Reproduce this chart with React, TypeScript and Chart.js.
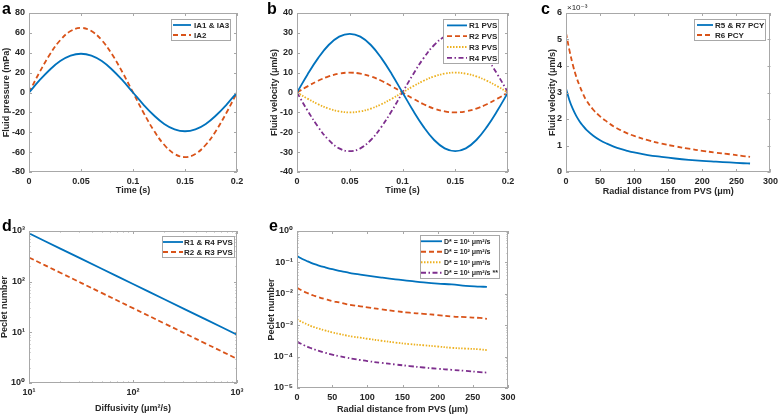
import React, { useEffect, useRef } from "react";
import { Chart, registerables } from "chart.js";

Chart.register(...registerables);

const FONT = "'Liberation Sans', Arial, 'DejaVu Sans', sans-serif";
const BLUE = "#0072BD";
const ORANGE = "#D95319";
const YELLOW = "#EDB120";
const PURPLE = "#7E2F8E";
const AXIS = "#a8a8a8";
const TEXT = "#262626";

const DASH = [5, 3];
const DOT = [1.5, 1.5];
const DASHDOT = [5, 2.5, 1.5, 2.5];

// ---------- Panel a ----------
const A_TIME = [0, 0.01, 0.02, 0.03, 0.04, 0.05, 0.06, 0.07, 0.08, 0.09, 0.1, 0.11, 0.12, 0.13, 0.14, 0.15, 0.16, 0.17, 0.18, 0.19, 0.2];
const A_IA1_IA3 = [0, 12.1, 22.9, 31.6, 37.1, 39, 37.1, 31.6, 22.9, 12.1, 0, -12.1, -22.9, -31.6, -37.1, -39, -37.1, -31.6, -22.9, -12.1, 0];
const A_IA2 = [0, 20.1, 38.2, 52.6, 61.8, 65, 61.8, 52.6, 38.2, 20.1, 0, -20.1, -38.2, -52.6, -61.8, -65, -61.8, -52.6, -38.2, -20.1, 0];

// ---------- Panel b ----------
const B_TIME = [0, 0.01, 0.02, 0.03, 0.04, 0.05, 0.06, 0.07, 0.08, 0.09, 0.1, 0.11, 0.12, 0.13, 0.14, 0.15, 0.16, 0.17, 0.18, 0.19, 0.2];
const B_R1 = [0, 9.1, 17.3, 23.9, 28.1, 29.5, 28.1, 23.9, 17.3, 9.1, 0, -9.1, -17.3, -23.9, -28.1, -29.5, -28.1, -23.9, -17.3, -9.1, 0];
const B_R2 = [0, 3.1, 5.9, 8.1, 9.5, 10, 9.5, 8.1, 5.9, 3.1, 0, -3.1, -5.9, -8.1, -9.5, -10, -9.5, -8.1, -5.9, -3.1, 0];
const B_R3 = [0, -3.1, -5.9, -8.1, -9.5, -10, -9.5, -8.1, -5.9, -3.1, 0, 3.1, 5.9, 8.1, 9.5, 10, 9.5, 8.1, 5.9, 3.1, 0];
const B_R4 = [0, -9.1, -17.3, -23.9, -28.1, -29.5, -28.1, -23.9, -17.3, -9.1, 0, 9.1, 17.3, 23.9, 28.1, 29.5, 28.1, 23.9, 17.3, 9.1, 0];

// ---------- Panel c (values in units of 1e-3 µm/s) ----------
const C_R = [0, 5, 10, 15, 20, 25, 30, 40, 50, 60, 70, 80, 90, 100, 120, 140, 160, 180, 200, 220, 240, 260, 270];
const C_R5_R7 = [3.15, 2.71, 2.38, 2.12, 1.91, 1.74, 1.59, 1.37, 1.2, 1.07, 0.96, 0.87, 0.8, 0.74, 0.64, 0.57, 0.51, 0.46, 0.42, 0.39, 0.36, 0.33, 0.32];
const C_R6 = [5.25, 4.6, 4.05, 3.6, 3.25, 2.95, 2.7, 2.35, 2.1, 1.9, 1.72, 1.58, 1.46, 1.36, 1.2, 1.07, 0.97, 0.88, 0.8, 0.73, 0.67, 0.6, 0.57];

// ---------- Panel d ----------
const D_DIFF = [10, 20, 50, 100, 200, 500, 1000];
const D_R1_R4 = [900, 450, 180, 90, 45, 18, 9];
const D_R2_R3 = [300, 150, 60, 30, 15, 6, 3];

// ---------- Panel e ----------
const E_R = [0, 5, 10, 15, 20, 25, 30, 40, 50, 60, 70, 80, 90, 100, 120, 140, 160, 180, 200, 220, 240, 260, 270];
const E_D1 = [0.16, 0.138, 0.121, 0.108, 0.097, 0.088, 0.081, 0.07, 0.061, 0.054, 0.049, 0.044, 0.041, 0.038, 0.033, 0.029, 0.026, 0.023, 0.021, 0.02, 0.018, 0.017, 0.0165];
const E_D2 = [0.0155, 0.0134, 0.0118, 0.0105, 0.0094, 0.0086, 0.0079, 0.0068, 0.0059, 0.0053, 0.0047, 0.0043, 0.004, 0.0037, 0.0032, 0.0028, 0.0025, 0.0023, 0.0021, 0.0019, 0.0018, 0.0017, 0.0016];
const E_D3 = [0.00155, 0.00134, 0.00118, 0.00105, 0.00094, 0.00086, 0.00079, 0.00068, 0.00059, 0.00053, 0.00047, 0.00043, 0.0004, 0.00037, 0.00032, 0.00028, 0.00025, 0.00023, 0.00021, 0.00019, 0.00018, 0.00017, 0.00016];
const E_D1B = [3.0e-4, 2.6e-4, 2.3e-4, 2.05e-4, 1.85e-4, 1.68e-4, 1.54e-4, 1.33e-4, 1.16e-4, 1.03e-4, 9.3e-5, 8.5e-5, 7.8e-5, 7.2e-5, 6.3e-5, 5.6e-5, 5.0e-5, 4.5e-5, 4.1e-5, 3.8e-5, 3.5e-5, 3.2e-5, 3.1e-5];

const D_X_TICKS = [10, 100, 1000];
const D_Y_TICKS = [1, 10, 100, 1000];
const E_Y_TICKS = [1e-5, 1e-4, 1e-3, 1e-2, 1e-1, 1];

const SUP: Record<string, string> = { "-": "⁻", "0": "⁰", "1": "¹", "2": "²", "3": "³", "4": "⁴", "5": "⁵", "6": "⁶", "7": "⁷", "8": "⁸", "9": "⁹" };
const pow10 = (v: number) => "10" + String(Math.round(Math.log10(v))).split("").map((c) => SUP[c]).join("");

const pts = (xs: number[], ys: number[]) => xs.map((x, i) => ({ x, y: ys[i] }));

const ds = (label: string, xs: number[], ys: number[], color: string, dash: number[], width = 1.8) => ({
  label,
  data: pts(xs, ys),
  borderColor: color,
  backgroundColor: color,
  borderWidth: width,
  borderDash: dash,
  pointRadius: 0,
  tension: 0.4,
  fill: false,
});

const boxPlugin = {
  id: "mbox",
  afterDatasetsDraw(chart: any) {
    const { ctx, chartArea } = chart;
    const { left, top, right, bottom } = chartArea;
    ctx.save();
    ctx.strokeStyle = AXIS;
    ctx.lineWidth = 1;
    ctx.setLineDash([]);
    ctx.strokeRect(Math.round(left) + 0.5, Math.round(top) + 0.5, Math.round(right - left) - 1, Math.round(bottom - top) - 1);
    const drawTicks = (scale: any, value: number, len: number) => {
      const p = Math.round(scale.getPixelForValue(value)) + 0.5;
      ctx.beginPath();
      if (scale.axis === "x") {
        ctx.moveTo(p, bottom);
        ctx.lineTo(p, bottom - len);
        ctx.moveTo(p, top);
        ctx.lineTo(p, top + len);
      } else {
        ctx.moveTo(left, p);
        ctx.lineTo(left + len, p);
        ctx.moveTo(right, p);
        ctx.lineTo(right - len, p);
      }
      ctx.stroke();
    };
    for (const id of Object.keys(chart.scales)) {
      const scale = chart.scales[id];
      for (const t of scale.ticks) drawTicks(scale, t.value, 3);
      if (scale.type === "logarithmic") {
        const lo = Math.round(Math.log10(scale.min));
        const hi = Math.round(Math.log10(scale.max));
        for (let e = lo; e < hi; e++) {
          for (let k = 2; k <= 9; k++) drawTicks(scale, k * Math.pow(10, e), 1.5);
        }
      }
    }
    ctx.restore();
  },
};

const legendPlugin = {
  id: "mlegend",
  afterDraw(chart: any, _args: any, opts: any) {
    if (!opts || !opts.size) return;
    const { ctx, chartArea } = chart;
    const sets = chart.data.datasets;
    ctx.save();
    ctx.font = `bold ${opts.size}px ${FONT}`;
    const textW = Math.max(...sets.map((d: any) => ctx.measureText(d.label).width));
    const w = Math.round(opts.padL + opts.lineLen + opts.gap + textW + opts.padR);
    const h = Math.round(sets.length * opts.rowH + 2 * opts.padV);
    const x = Math.round(chartArea.right - opts.mr - w);
    const y = Math.round(chartArea.top + opts.mt);
    ctx.fillStyle = "#ffffff";
    ctx.fillRect(x, y, w, h);
    ctx.strokeStyle = AXIS;
    ctx.lineWidth = 1;
    ctx.setLineDash([]);
    ctx.strokeRect(x + 0.5, y + 0.5, w - 1, h - 1);
    sets.forEach((d: any, i: number) => {
      const cy = y + opts.padV + opts.rowH * (i + 0.5);
      ctx.beginPath();
      ctx.strokeStyle = d.borderColor;
      ctx.lineWidth = d.borderWidth;
      ctx.setLineDash(d.borderDash || []);
      ctx.moveTo(x + opts.padL, cy);
      ctx.lineTo(x + opts.padL + opts.lineLen, cy);
      ctx.stroke();
      ctx.setLineDash([]);
      ctx.fillStyle = TEXT;
      ctx.textAlign = "left";
      ctx.textBaseline = "middle";
      ctx.fillText(d.label, x + opts.padL + opts.lineLen + opts.gap, cy + 0.5);
    });
    ctx.restore();
  },
};

const extraPlugin = {
  id: "mextra",
  afterDraw(chart: any, _args: any, opts: any) {
    if (!opts || !opts.text) return;
    const { ctx, chartArea } = chart;
    ctx.save();
    ctx.font = `${opts.size}px ${FONT}`;
    ctx.fillStyle = TEXT;
    ctx.textAlign = "left";
    ctx.textBaseline = "alphabetic";
    ctx.fillText(opts.text, chartArea.left + opts.dx, chartArea.top - opts.dy);
    ctx.restore();
  },
};

type Geo = { L: number; T: number; R: number; B: number; yt: number; xt: number; ct: number; cr: number };

type PanelCfg = {
  geo: Geo;
  datasets: any[];
  x: any;
  y: any;
  xTitle: string;
  yTitle: string;
  legend: any;
  extra?: any;
};

const tickFont = { family: FONT, size: 9, weight: "bold" as const };
const titleFont = { family: FONT, size: 9, weight: "bold" as const, lineHeight: 1 };

function Panel({ cfg }: { cfg: PanelCfg }) {
  const ref = useRef<HTMLCanvasElement>(null);
  const g = cfg.geo;
  const cl = Math.max(0, Math.floor(g.yt - 6));
  const cb = Math.min(415, Math.ceil(g.xt + 6));
  const w = g.cr - cl;
  const h = cb - g.ct;

  useEffect(() => {
    const canvas = ref.current!;
    const chart = new Chart(canvas, {
      type: "line",
      data: { datasets: cfg.datasets },
      options: {
        animation: false,
        responsive: false,
        maintainAspectRatio: false,
        devicePixelRatio: 1,
        events: [],
        layout: { padding: { left: 0, top: g.T - g.ct, right: g.cr - g.R, bottom: 0 } },
        plugins: {
          legend: { display: false },
          tooltip: { enabled: false },
          mlegend: cfg.legend,
          mextra: cfg.extra || {},
        } as any,
        scales: {
          x: {
            ...cfg.x,
            position: "bottom",
            grid: { display: false, drawTicks: false },
            border: { display: false },
            ticks: { ...(cfg.x.ticks || {}), font: tickFont, color: TEXT, padding: 4, maxRotation: 0, autoSkip: false },
            title: { display: true, text: cfg.xTitle, font: titleFont, color: TEXT, padding: { top: 0, bottom: cb - 4.5 - g.xt } },
            afterFit: (s: any) => {
              s.height = cb - g.B;
            },
          },
          y: {
            ...cfg.y,
            position: "left",
            grid: { display: false, drawTicks: false },
            border: { display: false },
            ticks: { ...(cfg.y.ticks || {}), font: tickFont, color: TEXT, padding: 4, autoSkip: false },
            title: { display: true, text: cfg.yTitle, font: titleFont, color: TEXT, padding: { top: g.yt - 4.5 - cl, bottom: 0 } },
            afterFit: (s: any) => {
              s.width = g.L - cl;
            },
          },
        } as any,
      },
      plugins: [boxPlugin, legendPlugin, extraPlugin],
    });
    return () => chart.destroy();
  }, []);

  return <canvas ref={ref} width={w} height={h} style={{ position: "absolute", left: cl, top: g.ct, width: w, height: h }} />;
}

const fmtDec = (v: any) => String(Number(Number(v).toFixed(3)));

const logAxis = (min: number, max: number, ticks: number[]) => ({
  type: "logarithmic",
  min,
  max,
  afterBuildTicks: (s: any) => {
    s.ticks = ticks.map((v) => ({ value: v }));
  },
  ticks: { callback: (v: any) => pow10(Number(v)) },
});

const PANELS: PanelCfg[] = [
  {
    geo: { L: 29, T: 13, R: 237, B: 172, yt: 7, xt: 191, ct: 0, cr: 252 },
    datasets: [ds("IA1 & IA3", A_TIME, A_IA1_IA3, BLUE, []), ds("IA2", A_TIME, A_IA2, ORANGE, DASH)],
    x: { type: "linear", min: 0, max: 0.2, ticks: { stepSize: 0.05, callback: fmtDec } },
    y: { type: "linear", min: -80, max: 80, ticks: { stepSize: 20 } },
    xTitle: "Time (s)",
    yTitle: "Fluid pressure (mPa)",
    legend: { size: 8, padL: 2, lineLen: 18, gap: 3, padR: 2, rowH: 10, padV: 1, mr: 6, mt: 6 },
  },
  {
    geo: { L: 297, T: 13, R: 508, B: 172, yt: 275, xt: 191, ct: 0, cr: 520 },
    datasets: [
      ds("R1 PVS", B_TIME, B_R1, BLUE, []),
      ds("R2 PVS", B_TIME, B_R2, ORANGE, DASH),
      ds("R3 PVS", B_TIME, B_R3, YELLOW, DOT),
      ds("R4 PVS", B_TIME, B_R4, PURPLE, DASHDOT),
    ],
    x: { type: "linear", min: 0, max: 0.2, ticks: { stepSize: 0.05, callback: fmtDec } },
    y: { type: "linear", min: -40, max: 40, ticks: { stepSize: 10 } },
    xTitle: "Time (s)",
    yTitle: "Fluid velocity (μm/s)",
    legend: { size: 8, padL: 4, lineLen: 20, gap: 2, padR: 2, rowH: 10.8, padV: 1, mr: 9, mt: 6 },
  },
  {
    geo: { L: 566, T: 13, R: 772, B: 172, yt: 553, xt: 192, ct: 0, cr: 782 },
    datasets: [ds("R5 & R7 PCY", C_R, C_R5_R7, BLUE, []), ds("R6 PCY", C_R, C_R6, ORANGE, DASH)],
    x: { type: "linear", min: 0, max: 300, ticks: { stepSize: 50 } },
    y: { type: "linear", min: 0, max: 6, ticks: { stepSize: 1 } },
    xTitle: "Radial distance from PVS (μm)",
    yTitle: "Fluid velocity (μm/s)",
    legend: { size: 8, padL: 3, lineLen: 16, gap: 2, padR: 2, rowH: 10, padV: 1, mr: 4, mt: 6 },
    extra: { text: "×10⁻³", size: 8, dx: 1, dy: 3 },
  },
  {
    geo: { L: 29, T: 231, R: 237, B: 383, yt: 5, xt: 409, ct: 205, cr: 252 },
    datasets: [ds("R1 & R4 PVS", D_DIFF, D_R1_R4, BLUE, []), ds("R2 & R3 PVS", D_DIFF, D_R2_R3, ORANGE, DASH)],
    x: logAxis(10, 1000, D_X_TICKS),
    y: logAxis(1, 1000, D_Y_TICKS),
    xTitle: "Diffusivity (μm²/s)",
    yTitle: "Peclet number",
    legend: { size: 8, padL: 1, lineLen: 20, gap: 1, padR: 2, rowH: 10, padV: 1, mr: 2, mt: 5 },
  },
  {
    geo: { L: 297, T: 231, R: 508, B: 388, yt: 272, xt: 410, ct: 205, cr: 520 },
    datasets: [
      ds("D* = 10¹ μm²/s", E_R, E_D1, BLUE, []),
      ds("D* = 10² μm²/s", E_R, E_D2, ORANGE, DASH),
      ds("D* = 10³ μm²/s", E_R, E_D3, YELLOW, DOT),
      ds("D* = 10¹ μm²/s **", E_R, E_D1B, PURPLE, DASHDOT),
    ],
    x: { type: "linear", min: 0, max: 300, ticks: { stepSize: 50 } },
    y: logAxis(1e-5, 1, E_Y_TICKS),
    xTitle: "Radial distance from PVS (μm)",
    yTitle: "Peclet number",
    legend: { size: 7, padL: 1, lineLen: 21, gap: 2, padR: 2, rowH: 10.5, padV: 1, mr: 8, mt: 4 },
  },
];

const LETTERS = [
  { t: "a", x: 2, y: 1 },
  { t: "b", x: 267, y: 1 },
  { t: "c", x: 541, y: 1 },
  { t: "d", x: 2, y: 218 },
  { t: "e", x: 269, y: 218 },
];

export default function App() {
  return (
    <div style={{ position: "absolute", left: 0, top: 0, width: 782, height: 415, overflow: "hidden", background: "#fff" }}>
      {PANELS.map((p, i) => (
        <Panel key={i} cfg={p} />
      ))}
      {LETTERS.map((l) => (
        <div
          key={l.t}
          style={{
            position: "absolute",
            left: l.x,
            top: l.y,
            font: `bold 16px ${FONT}`,
            lineHeight: "16px",
            color: "#000",
          }}
        >
          {l.t}
        </div>
      ))}
    </div>
  );
}
